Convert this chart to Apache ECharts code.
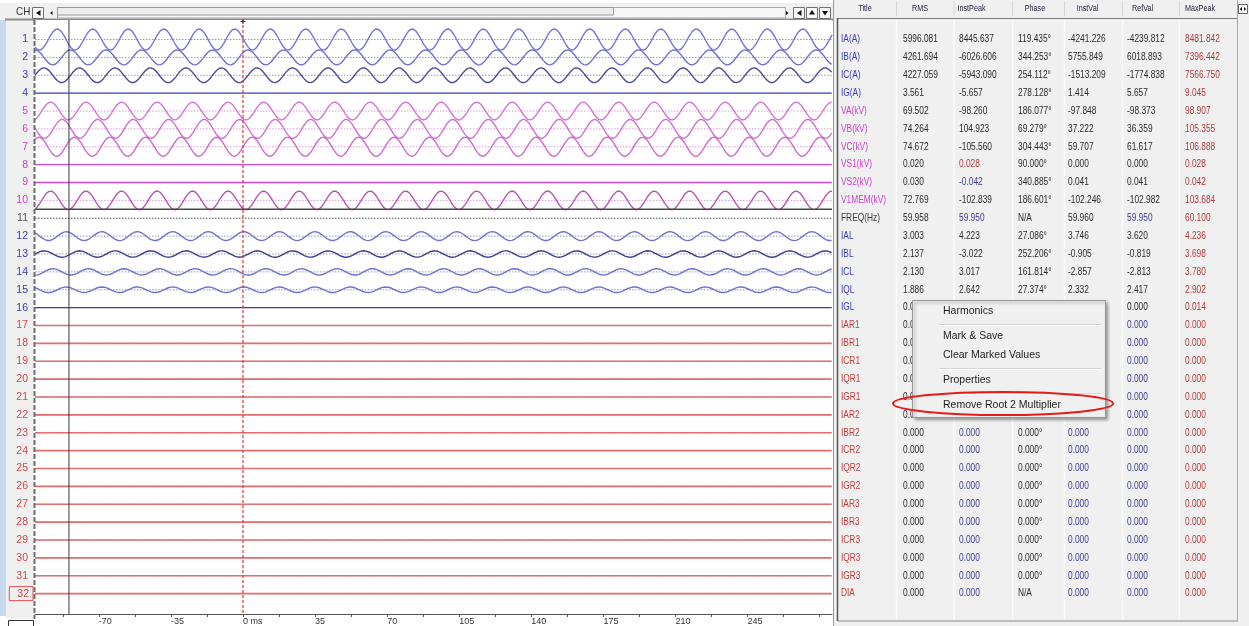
<!DOCTYPE html>
<html>
<head>
<meta charset="utf-8">
<script src="https://cdn.jsdelivr.net/npm/echarts@6/dist/echarts.min.js"></script>
<style>
  html, body { margin: 0; padding: 0; background: #ffffff; }
  #chart { width: 1249px; height: 626px; }
</style>
</head>
<body>
<div id="chart"></div>
<script>
// ---- Channel table ----
const channelNames = ['IA(A)', 'IB(A)', 'IC(A)', 'IG(A)', 'VA(kV)', 'VB(kV)', 'VC(kV)', 'VS1(kV)', 'VS2(kV)', 'V1MEM(kV)',
  'FREQ(Hz)', 'IAL', 'IBL', 'ICL', 'IQL', 'IGL', 'IAR1', 'IBR1', 'ICR1', 'IQR1', 'IGR1', 'IAR2', 'IBR2', 'ICR2',
  'IQR2', 'IGR2', 'IAR3', 'IBR3', 'ICR3', 'IQR3', 'IGR3', 'DIA'];
// I = current, V = voltage, F = frequency, R = relay element
const channelKind = ['I', 'I', 'I', 'I', 'V', 'V', 'V', 'V', 'V', 'V', 'F', 'I', 'I', 'I', 'I', 'I',
  'R', 'R', 'R', 'R', 'R', 'R', 'R', 'R', 'R', 'R', 'R', 'R', 'R', 'R', 'R', 'R'];
const rmsValues = [5996.081, 4261.694, 4227.059, 3.561, 69.502, 74.264, 74.672, 0.020, 0.030, 72.769,
  59.958, 3.003, 2.137, 2.130, 1.886, 0.000, 0, 0, 0, 0, 0, 0, 0, 0, 0, 0, 0, 0, 0, 0, 0, 0];
const instPeakValues = [8445.637, -6026.606, -5943.090, -5.657, -98.260, 104.923, -105.560, 0.028, -0.042, -102.839,
  59.950, 4.223, -3.022, 3.017, 2.642, 0.000, 0, 0, 0, 0, 0, 0, 0, 0, 0, 0, 0, 0, 0, 0, 0, 0];
const phaseValues = [119.435, 344.253, 254.112, 278.128, 186.077, 69.279, 304.443, 90.000, 340.885, 186.601,
  null, 27.086, 252.206, 161.814, 27.374, 0.000, 0, 0, 0, 0, 0, 0, 0, 0, 0, 0, 0, 0, 0, 0, 0, null];
const instValues = [-4241.226, 5755.849, -1513.209, 1.414, -97.848, 37.222, 59.707, 0.000, 0.041, -102.246,
  59.960, 3.746, -0.905, -2.857, 2.332, 0.000, 0, 0, 0, 0, 0, 0, 0, 0, 0, 0, 0, 0, 0, 0, 0, 0];
const refValues = [-4239.812, 6018.893, -1774.838, 5.657, -98.373, 36.359, 61.617, 0.000, 0.041, -102.982,
  59.950, 3.620, -0.819, -2.813, 2.417, 0.000, 0, 0, 0, 0, 0, 0, 0, 0, 0, 0, 0, 0, 0, 0, 0, 0];
const maxPeakValues = [8481.842, 7396.442, 7566.750, 9.045, 98.907, 105.355, 106.888, 0.028, 0.042, 103.684,
  60.100, 4.236, 3.698, 3.780, 2.902, 0.014, 0, 0, 0, 0, 0, 0, 0, 0, 0, 0, 0, 0, 0, 0, 0, 0];
// value colour codes per column: k = plain, b = blue, r = red
const instPeakTones = 'kkkkkkkrbkbkkkkbbbbbbbbbbbbbbbbb';
const instValTones  = 'kkkkkkkkkkkkkkkbbbbbbbbbbbbbbbbb';
const refValTones   = 'kkkkkkkkkkbkkkkkbbbbbbbbbbbbbbbb';

const tableColumns = ['Title', 'RMS', 'InstPeak', 'Phase', 'InstVal', 'RefVal', 'MaxPeak'];
const menuItems = ['Harmonics', 'Mark & Save', 'Clear Marked Values', 'Properties', 'Remove Root 2 Multiplier'];

// ---- Time axis ----
const timeTickLabels = [-70, -35, 0, 35, 70, 105, 140, 175, 210, 245];
const tickStepMs = 17.5;
const cursorTimeMs = -84.5;
const cyclePeriodMs = 17.24;
// trace scale: value that spans one channel row
const traceFullScale = [14260, 14260, 14260, 14260, 196, 196, 196, 196, 196, 196, 1, 16.9, 16.9, 16.9, 16.9, 16.9,
  1, 1, 1, 1, 1, 1, 1, 1, 1, 1, 1, 1, 1, 1, 1, 1];

const FONT = '"Liberation Sans", Arial, Helvetica, sans-serif';
const X_MIN = -101, X_MAX = 286, Y_MIN = -0.092, Y_MAX = 33.14, SAMPLE_STEP = 0.2;
const KIND_COLOR = { I: '#3b3bb5', V: '#cc3fcc', F: '#3a3a3a', R: '#c23c3c' };
const TONE = { k: '#2a2a2a', b: '#3c3c96', r: '#b23a3a' };
const traceColors = ['#7474d6', '#7070d0', '#4c4c94', '#4848d0', '#d474d4', '#d070d0', '#cc6ccc', '#d24ad2', '#d24ad2',
  '#b458b4', null, '#7272d2', '#3e3e86', '#7070d0', '#7070d0', '#3a3ab0'];
const RELAY_COLOR = '#e46e6e';

const chart = echarts.init(document.getElementById('chart'), null, { renderer: 'canvas' });

const times = [];
for (let t = X_MIN; t <= X_MAX + 1e-9; t += SAMPLE_STEP) times.push(Math.round(t * 1000) / 1000);

function traceData(i) {
  const row = i + 1;
  const amp = Math.abs(instPeakValues[i]) / traceFullScale[i];
  const ph = (phaseValues[i] || 0) * Math.PI / 180;
  return times.map(t => [t, row - amp * Math.cos(2 * Math.PI * (t - cursorTimeMs) / cyclePeriodMs + ph)]);
}

function plainLine(data, color, width, type, z) {
  return {
    type: 'line', data, showSymbol: false, symbol: 'none', silent: true, z,
    lineStyle: { color, width, type }
  };
}

const series = [];
// dotted zero line of each channel
channelNames.forEach((n, i) => {
  const c = channelKind[i] === 'V' ? '#d99ad9' : (channelKind[i] === 'F' ? '#4a4a4a' : '#9494b8');
  series.push(plainLine([[X_MIN, i + 1], [X_MAX, i + 1]], c, 1, [1.5, 1.5], 1));
});
// channel traces
channelNames.forEach((n, i) => {
  const color = i < traceColors.length ? traceColors[i] : RELAY_COLOR;
  if (!color) return;
  const s = plainLine(traceData(i), color, channelKind[i] === 'R' ? 1.6 : 1.4, 'solid', 3);
  s.name = n;
  series.push(s);
});
// selected-channel divider, cursor and zero-time marker
series.push(plainLine([[X_MIN, 10.5], [X_MAX, 10.5]], '#474747', 1.5, 'solid', 5));
series.push(plainLine([[cursorTimeMs, Y_MIN], [cursorTimeMs, Y_MAX]], '#3a3a3a', 1, 'solid', 5));
series.push(plainLine([[0, Y_MIN], [0, Y_MAX]], '#e8322e', 1.2, [3, 2], 5));

const tickValues = [];
for (let v = timeTickLabels[0] - tickStepMs; v < X_MAX; v += tickStepMs) tickValues.push(v);

const rowNums = channelNames.map((n, i) => i + 1);

chart.setOption({
  animation: false,
  grid: { left: 35, right: 417, top: 20, bottom: 6.5, show: true, backgroundColor: '#ffffff', borderWidth: 0 },
  xAxis: {
    type: 'value', min: X_MIN, max: X_MAX, position: 'bottom',
    axisLine: { show: true, onZero: false, lineStyle: { color: '#555', width: 1 } },
    axisTick: { show: true, length: 3, customValues: tickValues, lineStyle: { color: '#555' } },
    axisLabel: {
      customValues: timeTickLabels, align: 'left', margin: 3, fontSize: 9, fontFamily: FONT, color: '#333',
      verticalAlign: 'top', formatter: v => (v === 0 ? '0 ms' : String(v))
    },
    splitLine: { show: false }
  },
  yAxis: {
    type: 'value', min: Y_MIN, max: Y_MAX, inverse: true,
    axisLine: { show: false }, axisTick: { show: false }, splitLine: { show: false },
    axisLabel: {
      customValues: rowNums, margin: 2, fontFamily: FONT, fontSize: 10.5,
      formatter: v => (v === 32 ? '{box|32}' : '{' + channelKind[v - 1] + '|' + v + '}'),
      rich: {
        I: { color: KIND_COLOR.I, padding: [0, 5, 0, 0], fontSize: 10.5, fontFamily: FONT },
        V: { color: KIND_COLOR.V, padding: [0, 5, 0, 0], fontSize: 10.5, fontFamily: FONT },
        F: { color: '#555', padding: [0, 5, 0, 0], fontSize: 10.5, fontFamily: FONT },
        R: { color: '#d04848', padding: [0, 5, 0, 0], fontSize: 10.5, fontFamily: FONT },
        box: { color: '#d04848', padding: [2, 4, 1, 8], borderColor: '#e05050', borderWidth: 1, fontSize: 10.5, fontFamily: FONT }
      }
    }
  },
  series
});

// ---- UI frame, table and context menu ----
function rowY(i) { return chart.convertToPixel({ yAxisIndex: 0 }, i + 1); }
const els = [];
function rect(x, y, w, h, fill, stroke, z, extra) {
  els.push(Object.assign({ type: 'rect', shape: { x, y, width: w, height: h }, style: { fill, stroke: stroke || null, lineWidth: 1 }, z: z == null ? -5 : z, silent: true }, extra || {}));
}
function line(x1, y1, x2, y2, color, w, z, dash) {
  els.push({ type: 'line', shape: { x1, y1, x2, y2 }, style: { stroke: color, lineWidth: w || 1, lineDash: dash || null }, z: z == null ? -4 : z, silent: true });
}
function text(x, y, str, color, size, opt) {
  opt = opt || {};
  els.push({
    type: 'text', x, y, scaleX: opt.scaleX || 1, z: opt.z == null ? 5 : opt.z, silent: true,
    style: { text: str, fill: color, font: `${size}px ${FONT}`, textAlign: opt.align || 'left', textVerticalAlign: 'middle', verticalAlign: 'middle' }
  });
}
function tri(points, z) {
  els.push({ type: 'polygon', shape: { points }, style: { fill: '#111' }, z: z == null ? 6 : z, silent: true });
}

// left panel chrome
rect(0, 0, 834, 19, '#f0f0f0');
rect(0, 0, 834, 3, '#ffffff');
rect(0, 20, 6, 596, '#c5d8ec');
rect(6, 20, 28, 599, '#f0f0f0');
line(5, 19.5, 834, 19.5, '#8a8a8a', 2, -3);
line(34.5, 20, 34.5, 619, '#6e6e6e', 2, 8, [5, 2]);
text(16, 11.5, 'CH', '#333', 11, { scaleX: 0.9 });
rect(32.5, 7.5, 11, 11, '#f8f8f8', '#707070', 5);
tri([[40.5, 10], [40.5, 16], [36, 13]]);
tri([[52.5, 11], [52.5, 15], [50, 13]]);
line(57.5, 7, 57.5, 18, '#888', 1, 5);
rect(57.5, 7.5, 728, 10.5, '#f6f6f6', '#a8a8a8', 4);
rect(57.5, 7.5, 556, 7.5, '#ededed', '#9a9a9a', 5);
tri([[786, 11], [786, 15], [788.5, 13]]);
rect(793.5, 7.5, 11, 11, '#f8f8f8', '#707070', 5);
tri([[801.5, 10], [801.5, 16], [797, 13]]);
rect(806.5, 7.5, 11, 11, '#f8f8f8', '#707070', 5);
tri([[809, 14.5], [815, 14.5], [812, 10]]);
rect(819.5, 7.5, 11, 11, '#f8f8f8', '#707070', 5);
tri([[822, 11], [828, 11], [825, 15.5]]);
rect(8.5, 620.5, 25, 8, 'rgba(0,0,0,0)', '#333', 5);

// right panel
rect(833, 0, 416, 626, '#f0f0f0', null, -6);
line(833.5, 0, 833.5, 626, '#9a9a9a', 1, -3);
line(837.5, 18, 837.5, 621, '#555', 1.5, -3);
line(838, 18.5, 1238, 18.5, '#777', 1, -3);
line(838, 621, 1238, 621, '#888', 1, -3);
line(1237.5, 0, 1237.5, 621, '#a8a8a8', 1, -3);
const colX = [841, 903, 959, 1018, 1068, 1127, 1185];
const headerX = [865, 920, 971.5, 1035, 1087.5, 1142.5, 1200];
const colSep = [896.5, 954, 1012.5, 1064.5, 1122.5, 1179.5];
colSep.forEach(x => {
  line(x, 20, x, 620, '#fbfbfb', 1.5, -3);
  line(x, 1, x, 16, '#d6d6d6', 1, -3);
});
tableColumns.forEach((c, j) => text(headerX[j], 9, c, '#24243a', 8.5, { align: 'center', scaleX: 0.85 }));
rect(1238.5, 4.5, 9, 9, '#fafafa', '#666', 5);
tri([[1242, 7], [1242, 11], [1239.8, 9]]);
tri([[1244, 7], [1244, 11], [1246.2, 9]]);

function fmt(v) { return v.toFixed(3); }
const SX = 0.82, FS = 10.2;
channelNames.forEach((n, i) => {
  const y = rowY(i);
  text(colX[0], y, n, KIND_COLOR[channelKind[i]], FS, { scaleX: SX });
  text(colX[1], y, fmt(rmsValues[i]), TONE.k, FS, { scaleX: SX });
  text(colX[2], y, fmt(instPeakValues[i]), TONE[instPeakTones[i]], FS, { scaleX: SX });
  text(colX[3], y, phaseValues[i] == null ? 'N/A' : fmt(phaseValues[i]) + '°', TONE.k, FS, { scaleX: SX });
  text(colX[4], y, fmt(instValues[i]), TONE[instValTones[i]], FS, { scaleX: SX });
  text(colX[5], y, fmt(refValues[i]), TONE[refValTones[i]], FS, { scaleX: SX });
  text(colX[6], y, fmt(maxPeakValues[i]), TONE.r, FS, { scaleX: SX });
});

// context menu
els.push({
  type: 'rect', shape: { x: 912.5, y: 300.5, width: 193, height: 117 }, z: 40, silent: true,
  style: { fill: '#f0f0f0', stroke: '#979797', lineWidth: 1, shadowBlur: 3, shadowOffsetX: 2, shadowOffsetY: 2, shadowColor: 'rgba(0,0,0,0.35)' }
});
const menuY = [311.5, 336.5, 355, 380, 405.5];
menuItems.forEach((m, k) => text(943, menuY[k], m, '#1e1e1e', 10.5, { z: 42 }));
[324, 368, 393].forEach(y => {
  line(939, y + 0.5, 1101, y + 0.5, '#d4d4d4', 1, 41);
  line(939, y + 1.5, 1101, y + 1.5, '#ffffff', 1, 41);
});
els.push({
  type: 'ellipse', shape: { cx: 1003, cy: 403.5, rx: 110, ry: 11.5 }, z: 45, silent: true,
  style: { fill: null, stroke: '#e21c1c', lineWidth: 2 }
});
// marker at top of the zero-time line
const zx = chart.convertToPixel({ xAxisIndex: 0 }, 0);
line(zx - 2.5, 21.5, zx + 2.5, 21.5, '#333', 1, 8);
line(zx, 19, zx, 24, '#333', 1, 8);

chart.setOption({ graphic: { elements: els } });
</script>
</body>
</html>
